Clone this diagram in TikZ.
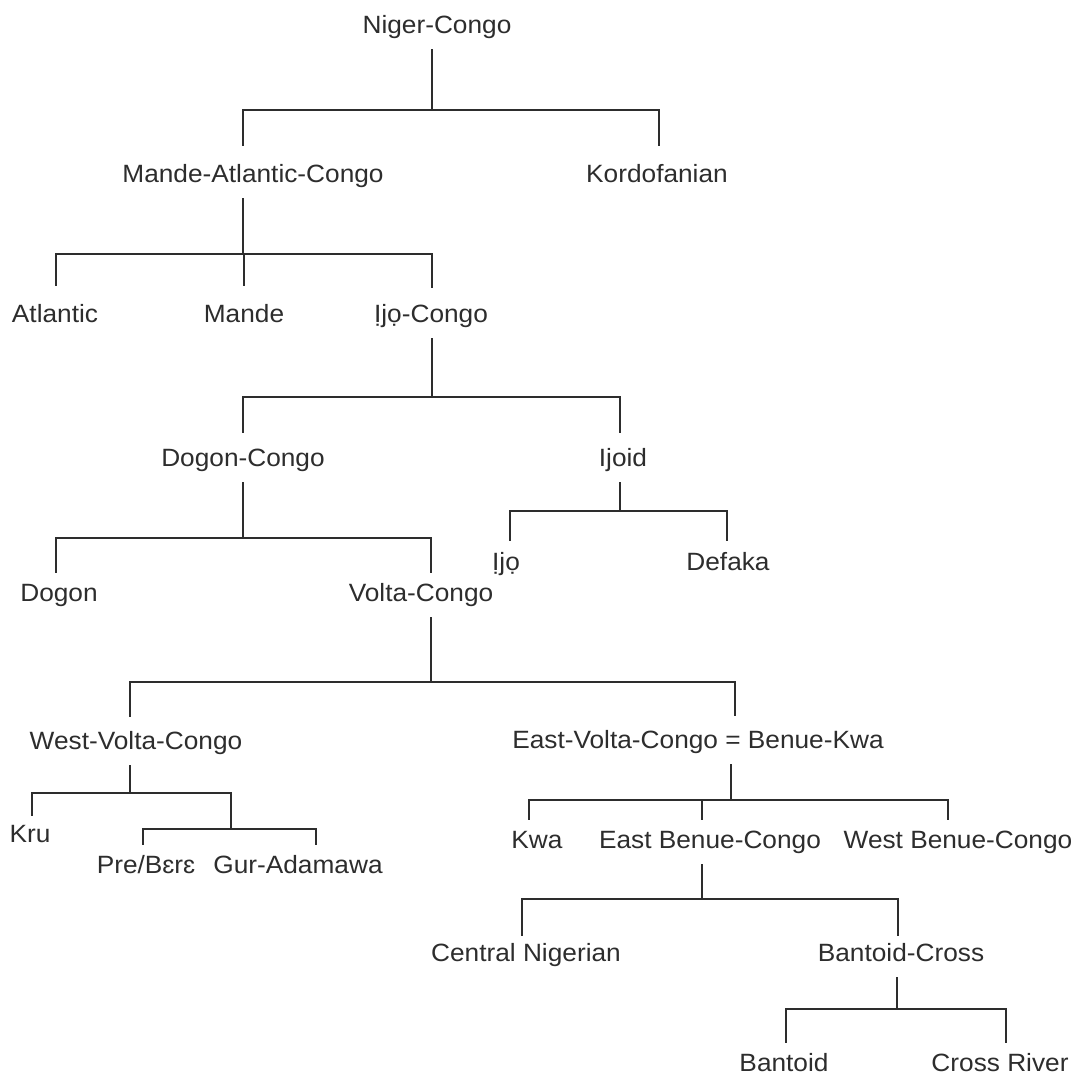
\documentclass[tikz,border=0pt]{standalone}
\usepackage{fontspec}
\setmainfont{Liberation Sans}[FakeStretch=1.05]
\definecolor{ink}{RGB}{45,45,45}
\begin{document}
\begin{tikzpicture}[x=1pt, y=-1pt,
  lang/.style={font=\fontsize{25}{30}\selectfont, text=ink, inner sep=0pt,
    text depth=16pt, text height=#1, anchor=base},
  lang/.default=29pt,
  leaf/.style={text depth=0pt},
  link/.style={draw=ink, line width=1.6pt}]
\useasboundingbox (0,0) rectangle (1076,1077);

% Sprachen
\node[lang] (nc) at (437,33) {Niger-Congo};
\node[lang=36pt] (mac) at (253,182) {Mande-Atlantic-Congo};
\node[lang=36pt] (kord) at (657,182) {Kordofanian};
\node[lang=36pt] (atl) at (55,322) {Atlantic};
\node[lang=36pt] (mande) at (244,322) {Mande};
\node[lang=34pt] (ijc) at (431,322) {Ịjọ-Congo};
\node[lang=33pt] (dc) at (243,466) {Dogon-Congo};
\node[lang=33pt] (ijoid) at (623,466) {Ijoid};
\node[lang] (ijo) at (506,570) {Ịjọ};
\node[lang] (def) at (728,570) {Defaka};
\node[lang=28pt] (dogon) at (59,601) {Dogon};
\node[lang=28pt] (vc) at (421,601) {Volta-Congo};
\node[lang=32pt] (wvc) at (136,749) {West-Volta-Congo};
\node[lang=32pt] (evc) at (698,748) {East-Volta-Congo = Benue-Kwa};
\node[lang=26pt] (kru) at (30,842) {Kru};
\node[lang=28pt] (pre) at (146,873) {Pre/Bɛrɛ};
\node[lang=28pt] (gur) at (298,873) {Gur-Adamawa};
\node[lang=28pt] (kwa) at (537,848) {Kwa};
\node[lang=28pt] (ebc) at (710,848) {East Benue-Congo};
\node[lang=28pt] (wbc) at (958,848) {West Benue-Congo};
\node[lang=25pt] (cn) at (526,961) {Central Nigerian};
\node[lang=25pt] (bc) at (901,961) {Bantoid-Cross};
\node[lang=28pt, leaf] (bant) at (784,1071) {Bantoid};
\node[lang=28pt, leaf] (cr) at (1000,1071) {Cross River};

% Niger-Congo
\foreach \c/\d in {mac/-10, kord/2}
  \draw[link] ([xshift=-5pt]nc.south) -- ++(0,61) -| ([xshift=\d pt]\c.north);

% Mande-Atlantic-Congo
\foreach \c/\d in {atl/1, mande/0, ijc/1}
  \draw[link] ([xshift=-10pt]mac.south) -- ++(0,56) -| ([xshift=\d pt]\c.north);

% Ijo-Congo
\foreach \c/\d in {dc/0, ijoid/-3}
  \draw[link] ([xshift=1pt]ijc.south) -- ++(0,59) -| ([xshift=\d pt]\c.north);

% Ijoid
\foreach \c/\d in {ijo/4, def/-1}
  \draw[link] ([xshift=-3pt]ijoid.south) -- ++(0,29) -| ([xshift=\d pt]\c.north);

% Dogon-Congo
\foreach \c/\d in {dogon/-3, vc/10}
  \draw[link] (dc.south) -- ++(0,56) -| ([xshift=\d pt]\c.north);

% Volta-Congo
\foreach \c/\d in {wvc/-6, evc/37}
  \draw[link] ([xshift=10pt]vc.south) -- ++(0,65) -| ([xshift=\d pt]\c.north);

% West-Volta-Congo
\coordinate (gurj) at (231,829);
\draw[link] ([xshift=-6pt]wvc.south) -- ++(0,28) -| ([xshift=2pt]kru.north);
\draw[link] ([xshift=-6pt]wvc.south) -- ++(0,28) -| (gurj);
\foreach \c/\d in {pre/-3, gur/18}
  \draw[link] (gurj) -| ([xshift=\d pt]\c.north);

% East-Volta-Congo
\foreach \c/\d in {kwa/-8, ebc/-8, wbc/-10}
  \draw[link] ([xshift=33pt]evc.south) -- ++(0,36) -| ([xshift=\d pt]\c.north);

% East Benue-Congo
\foreach \c/\d in {cn/-4, bc/-3}
  \draw[link] ([xshift=-8pt]ebc.south) -- ++(0,35) -| ([xshift=\d pt]\c.north);

% Bantoid-Cross
\foreach \c/\d in {bant/2, cr/6}
  \draw[link] ([xshift=-4pt]bc.south) -- ++(0,32) -| ([xshift=\d pt]\c.north);
\end{tikzpicture}
\end{document}
